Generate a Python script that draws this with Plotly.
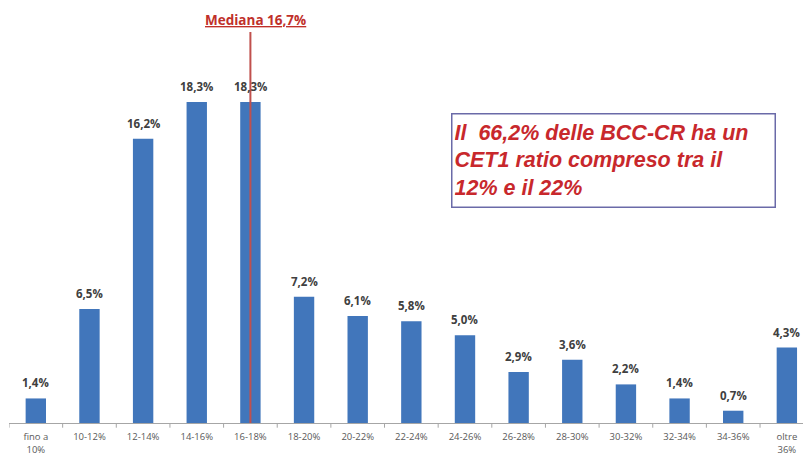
import plotly.graph_objects as go

categories = ["fino a<br>10%", "10-12%", "12-14%", "14-16%", "16-18%", "18-20%", "20-22%",
              "22-24%", "24-26%", "26-28%", "28-30%", "30-32%", "32-34%", "34-36%", "oltre<br>36%"]
values = [1.4, 6.5, 16.2, 18.3, 18.3, 7.2, 6.1, 5.8, 5.0, 2.9, 3.6, 2.2, 1.4, 0.7, 4.3]
labels = ["1,4%", "6,5%", "16,2%", "18,3%", "18,3%", "7,2%", "6,1%", "5,8%", "5,0%",
          "2,9%", "3,6%", "2,2%", "1,4%", "0,7%", "4,3%"]
median_category_index = 4
median_label = "Mediana 16,7%"
box_text = "Il  66,2% delle BCC-CR ha un<br>CET1 ratio compreso tra il<br>12% e il 22%"

x_idx = list(range(len(categories)))

fig = go.Figure()
fig.add_trace(go.Bar(
    x=x_idx, y=values, marker=dict(color="#4176bb", line=dict(width=0)),
    width=0.38, hoverinfo="skip", showlegend=False,
))

for xi, v, lab in zip(x_idx, values, labels):
    fig.add_annotation(x=xi, y=v, text=lab, showarrow=False, xref="x", yref="y",
                       yanchor="bottom", yshift=6,
                       font=dict(family="Open Sans", size=11.5, color="#404040", weight="bold"))

# median line
fig.add_shape(type="line", xref="x", yref="paper", x0=median_category_index, x1=median_category_index,
              y0=0, y1=0.995, line=dict(color="#c0504d", width=2))
fig.add_annotation(x=median_category_index + 0.1, y=1.025, xref="x", yref="paper",
                   text="<u>" + median_label + "</u>", showarrow=False, yanchor="middle",
                   font=dict(family="Open Sans", size=13.5, color="#c0302a", weight="bold"))

# text box
fig.add_annotation(x=0.551, y=0.789, xref="paper", yref="paper", xanchor="left", yanchor="top",
                   text="<b><i>" + box_text + "</i></b>", showarrow=False, align="left",
                   width=318, height=88, valign="middle",
                   bordercolor="#6a6aa8", borderwidth=1.5, borderpad=2, bgcolor="white",
                   font=dict(family="Liberation Sans", size=21.5, color="#c8282c"))

fig.update_layout(
    width=803, height=463,
    margin=dict(l=1, r=0, t=22, b=48),
    paper_bgcolor="white", plot_bgcolor="white",
    xaxis=dict(
        tickmode="array", tickvals=x_idx, ticktext=categories,
        range=[-0.5, 14.45], showgrid=False, zeroline=False,
        showline=True, linecolor="#a6a6a6", linewidth=1,
        ticks="", ticklabelstandoff=5,
        tickfont=dict(family="Open Sans", size=9.5, color="#595959"),
    ),
    yaxis=dict(range=[0, 22.4], visible=False, showgrid=False),
)

# tick marks between categories
for b in [i - 0.5 for i in range(len(categories) + 1)]:
    fig.add_shape(type="line", xref="x", yref="paper", x0=b, x1=b, y0=0, y1=-0.012,
                  line=dict(color="#a6a6a6", width=1))

fig.write_html("out.html")
